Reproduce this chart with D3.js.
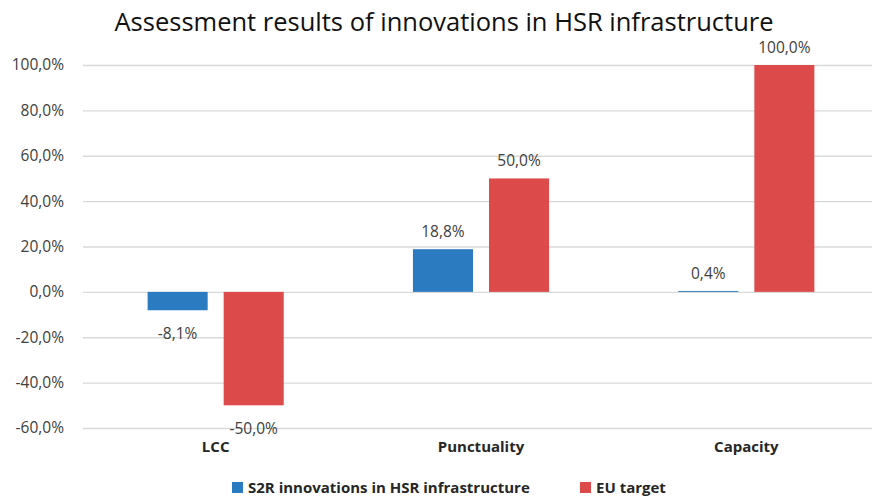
<!DOCTYPE html>
<html>
<head>
<meta charset="utf-8">
<script src="https://cdn.jsdelivr.net/npm/d3@7"></script>
<style>
  html, body { margin: 0; padding: 0; background: #fff; }
  svg { display: block; }
</style>
</head>
<body>
<svg id="chart" width="872" height="498"></svg>
<script>
// Assessment data: share of improvement per KPI
const categories = ["LCC", "Punctuality", "Capacity"];
const seriesNames = ["S2R innovations in HSR infrastructure", "EU target"];
const s2rValues = [-8.1, 18.8, 0.4];
const euTargetValues = [-50.0, 50.0, 100.0];
const yTicks = [-60, -40, -20, 0, 20, 40, 60, 80, 100];
const colors = ["#2a7bc0", "#dc4b4a"];

const seriesValues = [s2rValues, euTargetValues];
const fmt = v => v.toFixed(1).replace(".", ",") + "%";

const svg = d3.select("#chart");
const font = "'Open Sans', 'Liberation Sans', sans-serif";

const left = 83, right = 879;
const y = d3.scaleLinear().domain([-60, 100]).range([428, 65]);
const x0 = d3.scaleBand().domain(categories).range([left, right])
  .paddingInner(0.487).paddingOuter(0.2435);
const x1 = d3.scaleBand().domain(seriesNames).range([0, x0.bandwidth()])
  .paddingInner(0.2105).paddingOuter(0);

// Title
svg.append("text")
  .attr("x", 444).attr("y", 31)
  .attr("text-anchor", "middle")
  .attr("font-family", font)
  .attr("font-size", 25.5)
  .attr("fill", "#111")
  .text("Assessment results of innovations in HSR infrastructure");

// Horizontal gridlines + y tick labels
const yAxis = d3.axisLeft(y).tickValues(yTicks).tickSize(-(right - left)).tickFormat(fmt).tickPadding(19);
const gy = svg.append("g").attr("transform", `translate(${left},0)`).call(yAxis);
gy.select(".domain").remove();
gy.selectAll(".tick line").attr("stroke", "#d9d9d9").attr("stroke-width", 1.3);
gy.selectAll(".tick text")
  .attr("font-family", font).attr("font-size", 15.5).attr("fill", "#404040");

// Bars
const groups = svg.append("g").selectAll("g")
  .data(categories)
  .join("g")
  .attr("transform", d => `translate(${x0(d)},0)`);

groups.selectAll("rect")
  .data((c, i) => seriesNames.map((s, k) => ({ s, k, v: seriesValues[k][i] })))
  .join("rect")
  .attr("x", d => x1(d.s))
  .attr("width", x1.bandwidth())
  .attr("y", d => y(Math.max(0, d.v)))
  .attr("height", d => Math.abs(y(d.v) - y(0)))
  .attr("fill", d => colors[d.k]);

// Value labels
groups.selectAll("text.val")
  .data((c, i) => seriesNames.map((s, k) => ({ s, k, v: seriesValues[k][i] })))
  .join("text")
  .attr("class", "val")
  .attr("x", d => x1(d.s) + x1.bandwidth() / 2)
  .attr("y", d => d.v >= 0 ? y(d.v) - 12 : y(d.v) + 29)
  .attr("text-anchor", "middle")
  .attr("font-family", font)
  .attr("font-size", 15.5)
  .attr("fill", "#404040")
  .text(d => fmt(d.v));

// Category labels
const xAxis = d3.axisBottom(x0).tickSize(0).tickPadding(0);
const gx = svg.append("g").attr("transform", "translate(0,441)").call(xAxis);
gx.select(".domain").remove();
gx.selectAll(".tick text")
  .attr("font-family", font).attr("font-size", 15).attr("font-weight", "bold")
  .attr("fill", "#262626");

// Legend
const legendItems = [
  { name: seriesNames[0], color: colors[0], x: 232 },
  { name: seriesNames[1], color: colors[1], x: 580 }
];
const lg = svg.append("g").selectAll("g").data(legendItems).join("g")
  .attr("transform", d => `translate(${d.x},482)`);
lg.append("rect").attr("width", 11).attr("height", 11).attr("fill", d => d.color);
lg.append("text")
  .attr("x", 16).attr("y", 11)
  .attr("font-family", font).attr("font-size", 15).attr("font-weight", "bold")
  .attr("fill", "#262626")
  .text(d => d.name);
</script>
</body>
</html>
